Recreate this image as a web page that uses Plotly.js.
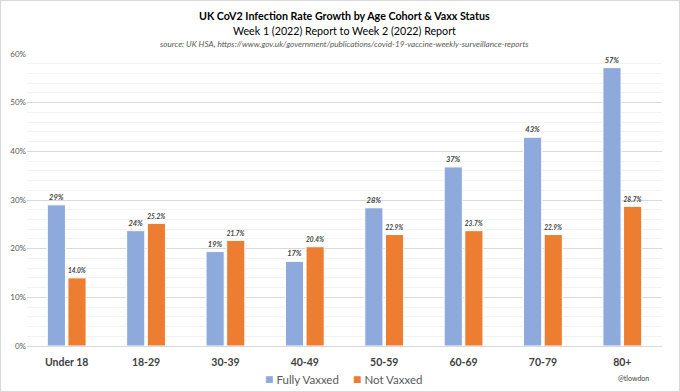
<!DOCTYPE html>
<html>
<head>
<meta charset="utf-8">
<script src="https://cdn.plot.ly/plotly-3.0.1.min.js"></script>
<style>
html,body{margin:0;padding:0;background:#fff;}
#chart{width:678px;height:390px;border:1px solid #d9d9d9;}
</style>
</head>
<body>
<div id="chart"></div>
<script>
const categories = ["Under 18","18-29","30-39","40-49","50-59","60-69","70-79","80+"];
const fullyVaxxed = [29.0, 23.7, 19.4, 17.4, 28.4, 36.8, 42.9, 57.2];
const notVaxxed = [14.0, 25.2, 21.7, 20.4, 22.9, 23.7, 22.9, 28.7];
const seriesNames = ["Fully Vaxxed", "Not Vaxxed"];
const seriesColors = ["#8EA9DB", "#ED7D31"];
const yTickVals = [0,10,20,30,40,50,60];
const yTickText = ["0%","10%","20%","30%","40%","50%","60%"];

const FONT = 'Lato, "Open Sans", Arial, sans-serif';
const labelFont = {family: FONT, size: 7.5, color: '#404040', weight: 'bold', style: 'italic'};

const traces = [
  {type:'bar', name:seriesNames[0], x:categories, y:fullyVaxxed,
   marker:{color:seriesColors[0], line:{color:'#ffffff', width:1}},
   texttemplate:'%{y:.0f}%', textposition:'outside', cliponaxis:false,
   textfont:labelFont, hoverinfo:'none'},
  {type:'bar', name:seriesNames[1], x:categories, y:notVaxxed,
   marker:{color:seriesColors[1], line:{color:'#ffffff', width:1}},
   texttemplate:'%{y:.1f}%', textposition:'outside', cliponaxis:false,
   textfont:labelFont, hoverinfo:'none'}
];

const legendFont = {family: FONT, size: 11.5, color: '#595959'};
const sq = c => '<span style="color:'+c+';font-size:14px">■</span> ';
const layout = {
  width:678, height:390,
  margin:{l:26, r:17, t:53, b:45, autoexpand:false},
  paper_bgcolor:'#ffffff', plot_bgcolor:'#ffffff',
  font:{family:FONT, color:'#595959'},
  barmode:'group', bargap:0.48, bargroupgap:0.12,
  showlegend:false,
  xaxis:{tickfont:{family:FONT, size:10.5, color:'#404040', weight:'bold'},
         showline:true, linecolor:'#d9d9d9', linewidth:1, ticks:'', ticklabelstandoff:6, fixedrange:true},
  yaxis:{range:[0,60], tickvals:yTickVals, ticktext:yTickText,
         tickfont:{family:FONT, size:8, color:'#595959'},
         gridcolor:'#d9d9d9', gridwidth:1, zeroline:false, ticks:'',
         minor:{dtick:2, showgrid:true, gridcolor:'#f2f2f2', gridwidth:1},
         fixedrange:true},
  annotations:[
    {text:'<b>UK CoV2 Infection Rate Growth by Age Cohort & Vaxx Status</b>', xref:'paper', yref:'paper',
     x:0.5, y:1, yshift:39, xanchor:'center', yanchor:'middle', showarrow:false,
     font:{family:FONT, size:10.7, color:'#000000'}},
    {text:'Week 1 (2022) Report to Week 2 (2022) Report', xref:'paper', yref:'paper',
     x:0.5, y:1, yshift:24, xanchor:'center', yanchor:'middle', showarrow:false,
     font:{family:FONT, size:10.7, color:'#000000'}},
    {text:'<i>source: UK HSA, https://www.gov.uk/government/publications/covid-19-vaccine-weekly-surveillance-reports</i>', xref:'paper', yref:'paper',
     x:0.5, y:1, yshift:10, xanchor:'center', yanchor:'middle', showarrow:false,
     font:{family:FONT, size:8.2, color:'#595959'}},
    {text:sq(seriesColors[0])+seriesNames[0], xref:'paper', yref:'paper',
     x:(262-26)/635, y:0, yshift:-32, xanchor:'left', yanchor:'middle', showarrow:false,
     font:legendFont},
    {text:sq(seriesColors[1])+seriesNames[1], xref:'paper', yref:'paper',
     x:(350-26)/635, y:0, yshift:-32, xanchor:'left', yanchor:'middle', showarrow:false,
     font:legendFont},
    {text:'@tlowdon', xref:'paper', yref:'paper',
     x:0.955, y:0, yshift:-32, xanchor:'center', yanchor:'middle', showarrow:false,
     font:{family:FONT, size:7, color:'#404040'}}
  ]
};

Plotly.newPlot('chart', traces, layout, {displayModeBar:false, staticPlot:true});
</script>
</body>
</html>
